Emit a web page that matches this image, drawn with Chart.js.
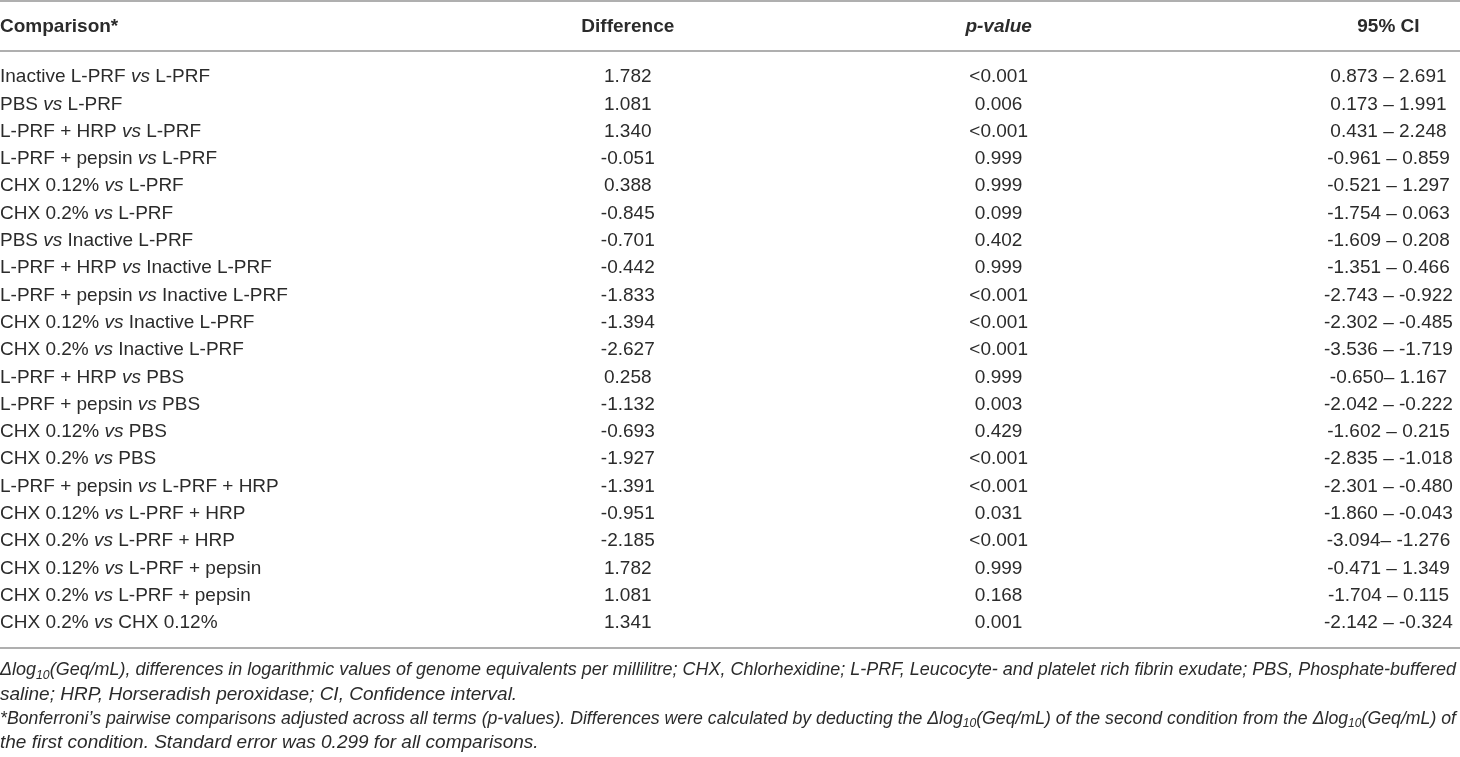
<!DOCTYPE html>
<html>
<head>
<meta charset="utf-8">
<script src="https://cdn.jsdelivr.net/npm/chart.js@4.4.1/dist/chart.umd.min.js"></script>
<style>
  html, body { margin: 0; padding: 0; background: #fff; }
</style>
</head>
<body>
<canvas id="tableChart" width="1460" height="757"></canvas>
<script>
// Column headers
const columnHeaders = ["Comparison*", "Difference", "p-value", "95% CI"];

// Rows of the table
const comparisons = [
  "Inactive L-PRF vs L-PRF",
  "PBS vs L-PRF",
  "L-PRF + HRP vs L-PRF",
  "L-PRF + pepsin vs L-PRF",
  "CHX 0.12% vs L-PRF",
  "CHX 0.2% vs L-PRF",
  "PBS vs Inactive L-PRF",
  "L-PRF + HRP vs Inactive L-PRF",
  "L-PRF + pepsin vs Inactive L-PRF",
  "CHX 0.12% vs Inactive L-PRF",
  "CHX 0.2% vs Inactive L-PRF",
  "L-PRF + HRP vs PBS",
  "L-PRF + pepsin vs PBS",
  "CHX 0.12% vs PBS",
  "CHX 0.2% vs PBS",
  "L-PRF + pepsin vs L-PRF + HRP",
  "CHX 0.12% vs L-PRF + HRP",
  "CHX 0.2% vs L-PRF + HRP",
  "CHX 0.12% vs L-PRF + pepsin",
  "CHX 0.2% vs L-PRF + pepsin",
  "CHX 0.2% vs CHX 0.12%"
];

const differences = [
  1.782, 1.081, 1.340, -0.051, 0.388, -0.845, -0.701, -0.442, -1.833, -1.394, -2.627,
  0.258, -1.132, -0.693, -1.927, -1.391, -0.951, -2.185, 1.782, 1.081, 1.341
];

const pValues = [
  "<0.001", "0.006", "<0.001", "0.999", "0.999", "0.099", "0.402", "0.999", "<0.001", "<0.001", "<0.001",
  "0.999", "0.003", "0.429", "<0.001", "<0.001", "0.031", "<0.001", "0.999", "0.168", "0.001"
];

const ciRanges = [
  "0.873 – 2.691", "0.173 – 1.991", "0.431 – 2.248", "-0.961 – 0.859", "-0.521 – 1.297",
  "-1.754 – 0.063", "-1.609 – 0.208", "-1.351 – 0.466", "-2.743 – -0.922", "-2.302 – -0.485",
  "-3.536 – -1.719", "-0.650– 1.167", "-2.042 – -0.222", "-1.602 – 0.215", "-2.835 – -1.018",
  "-2.301 – -0.480", "-1.860 – -0.043", "-3.094– -1.276", "-0.471 – 1.349", "-1.704 – 0.115",
  "-2.142 – -0.324"
];

// Footnotes, _{..} = subscript, true = justified
const footnotes = [
  ["Δlog_{10}(Geq/mL), differences in logarithmic values of genome equivalents per millilitre; CHX, Chlorhexidine; L-PRF, Leucocyte- and platelet rich fibrin exudate; PBS, Phosphate-buffered", true],
  ["saline; HRP, Horseradish peroxidase; CI, Confidence interval.", false],
  ["*Bonferroni’s pairwise comparisons adjusted across all terms (p-values). Differences were calculated by deducting the Δlog_{10}(Geq/mL) of the second condition from the Δlog_{10}(Geq/mL) of", true],
  ["the first condition. Standard error was 0.299 for all comparisons.", false]
];

const FONT = "'Liberation Sans', Arial, sans-serif";
const TEXT_COLOR = "#2b2b2b";
const RULE_COLOR = "#959595";
const SIZE = 19;

// split a footnote word into normal / subscript pieces
function pieces(word) {
  const out = [];
  const re = /_\{([^}]*)\}/g;
  let last = 0, m;
  while ((m = re.exec(word)) !== null) {
    if (m.index > last) out.push({ t: word.slice(last, m.index), sub: false });
    out.push({ t: m[1], sub: true });
    last = re.lastIndex;
  }
  if (last < word.length) out.push({ t: word.slice(last), sub: false });
  return out;
}

function setFont(ctx, sub) {
  ctx.font = "italic " + (sub ? 13 : SIZE) + "px " + FONT;
}

function wordWidth(ctx, word) {
  let w = 0;
  for (const p of pieces(word)) {
    setFont(ctx, p.sub);
    w += ctx.measureText(p.t).width;
  }
  return w;
}

function drawWord(ctx, word, x, y) {
  for (const p of pieces(word)) {
    setFont(ctx, p.sub);
    ctx.fillText(p.t, x, p.sub ? y + 5 : y);
    x += ctx.measureText(p.t).width;
  }
}

function drawFootnote(ctx, text, justify, left, right, y) {
  const words = text.split(" ");
  setFont(ctx, false);
  const space = ctx.measureText(" ").width;
  const widths = words.map(w => wordWidth(ctx, w));
  const natural = widths.reduce((a, b) => a + b, 0) + space * (words.length - 1);
  const target = right - left;
  // squeeze a little when the line is too long for the table width
  const sx = natural > target ? target / natural : 1;
  let gap = space;
  if (justify && sx === 1 && words.length > 1) {
    gap = space + (target - natural) / (words.length - 1);
  }
  ctx.save();
  ctx.translate(left, 0);
  ctx.scale(sx, 1);
  let x = 0;
  words.forEach((w, i) => {
    drawWord(ctx, w, x, y);
    x += widths[i] + gap;
  });
  ctx.restore();
}

// comparison label with italic "vs"
function drawComparison(ctx, label, x, y) {
  const parts = label.split(" vs ");
  ctx.textAlign = "left";
  ctx.font = SIZE + "px " + FONT;
  ctx.fillText(parts[0] + " ", x, y);
  x += ctx.measureText(parts[0] + " ").width;
  ctx.font = "italic " + SIZE + "px " + FONT;
  ctx.fillText("vs", x, y);
  x += ctx.measureText("vs").width;
  ctx.font = SIZE + "px " + FONT;
  ctx.fillText(" " + parts[1], x, y);
}

function rule(ctx, x0, x1, y) {
  ctx.save();
  ctx.strokeStyle = RULE_COLOR;
  ctx.lineWidth = 1.5;
  ctx.beginPath();
  ctx.moveTo(x0, y);
  ctx.lineTo(x1, y);
  ctx.stroke();
  ctx.restore();
}

// column anchors as fractions of table width
const colAnchors = [0, 0.430, 0.684, 0.951];

const tablePlugin = {
  id: "tableText",
  afterDraw(chart) {
    const { ctx, chartArea, scales } = chart;
    const x = scales.x, y = scales.y;
    const left = chartArea.left, right = chartArea.right;
    const colX = colAnchors.map(a => x.getPixelForValue(a));

    ctx.save();
    ctx.fillStyle = TEXT_COLOR;
    ctx.textBaseline = "middle";

    // rules
    rule(ctx, left, right, 1);
    rule(ctx, left, right, chartArea.top - 26);
    rule(ctx, left, right, chartArea.bottom + 25);

    // header
    const headY = chartArea.top - 50;
    columnHeaders.forEach((h, c) => {
      ctx.font = (c === 2 ? "italic bold " : "bold ") + SIZE + "px " + FONT;
      ctx.textAlign = c === 0 ? "left" : "center";
      ctx.fillText(h, colX[c], headY);
    });

    // rows
    comparisons.forEach((label, i) => {
      const py = y.getPixelForValue(i);
      drawComparison(ctx, label, colX[0], py);
      ctx.font = SIZE + "px " + FONT;
      ctx.textAlign = "center";
      ctx.fillText(differences[i].toFixed(3), colX[1], py);
      ctx.fillText(pValues[i], colX[2], py);
      ctx.fillText(ciRanges[i], colX[3], py);
    });

    // footnotes
    ctx.textAlign = "left";
    footnotes.forEach(([text, justify], k) => {
      drawFootnote(ctx, text, justify, left, right - 4, chartArea.bottom + 47 + k * 24.3);
    });
    ctx.restore();
  }
};

new Chart(document.getElementById("tableChart").getContext("2d"), {
  type: "line",
  data: {
    labels: comparisons,
    datasets: []
  },
  options: {
    responsive: false,
    animation: false,
    layout: {
      padding: { top: 77, bottom: 134, left: 0, right: 0 }
    },
    plugins: {
      legend: { display: false },
      tooltip: { enabled: false }
    },
    scales: {
      x: { type: "linear", min: 0, max: 1, display: false },
      y: { type: "category", labels: comparisons, display: false, offset: false }
    }
  },
  plugins: [tablePlugin]
});
</script>
</body>
</html>
